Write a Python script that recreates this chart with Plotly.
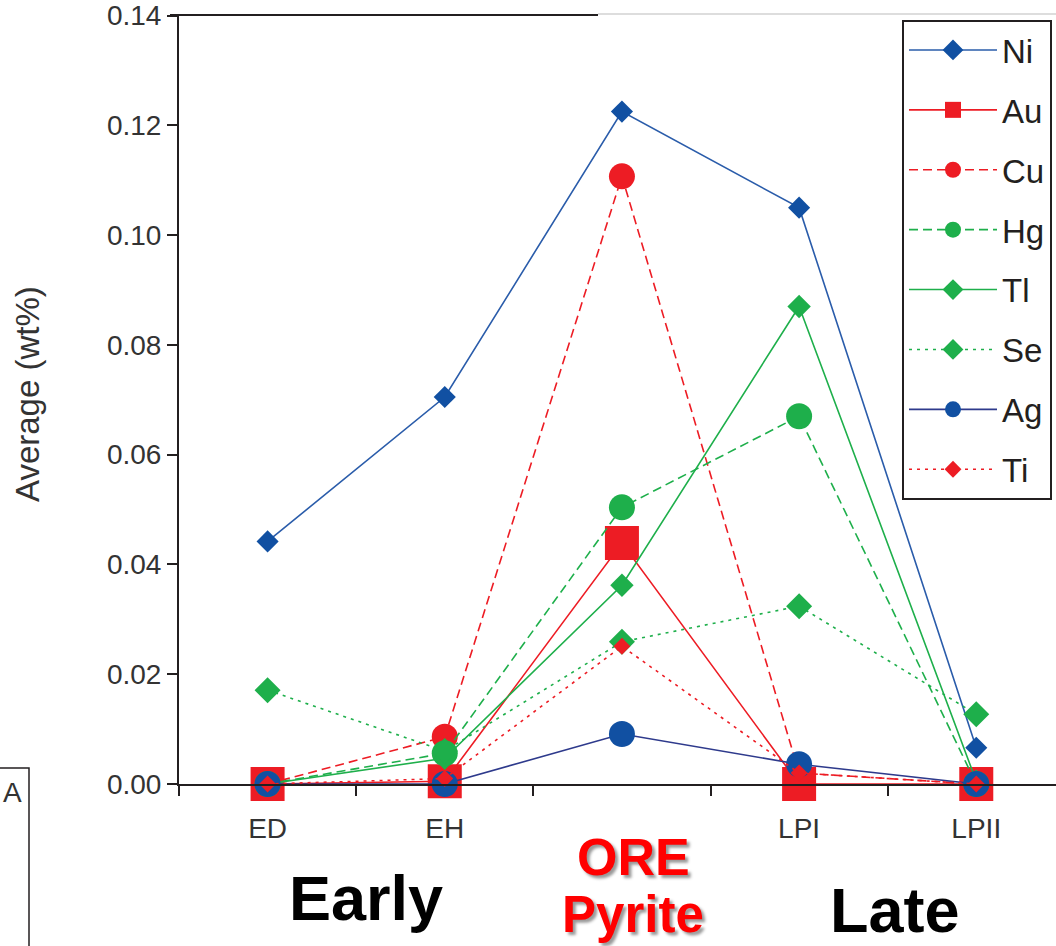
import plotly.graph_objects as go

# ---- data ----
stages = ["ED", "EH", "ORE", "LPI", "LPII"]
tick_labels = ["ED", "EH", "", "LPI", "LPII"]
x_pos = [0, 1, 2, 3, 4]
y_ticks = [0.00, 0.02, 0.04, 0.06, 0.08, 0.10, 0.12, 0.14]
y_tick_text = ["0.00", "0.02", "0.04", "0.06", "0.08", "0.10", "0.12", "0.14"]

ni = [0.0442, 0.0705, 0.1225, 0.1050, 0.0066]
au = [0.0000, 0.0005, 0.0439, 0.0000, 0.0000]
cu = [0.0000, 0.0086, 0.1107, 0.0020, 0.0000]
hg = [0.0000, 0.0056, 0.0504, 0.0670, 0.0000]
tl = [0.0000, 0.0047, 0.0362, 0.0870, 0.0005]
se = [0.0171, 0.0060, 0.0259, 0.0324, 0.0127]
ag = [0.0000, 0.0000, 0.0091, 0.0036, 0.0000]
ti = [0.0000, 0.0010, 0.0251, 0.0020, 0.0000]

BLUE = "#1150A2"
NAVY = "#2E3A8C"
RED = "#ED1C24"
GREEN = "#1EAF4B"
FONT = "Liberation Sans, Arial, sans-serif"

series = [
    ("Ni", ni, "#2A5CAA", "solid", "diamond", 17, BLUE),
    ("Au", au, RED, "solid", "square", 34, RED),
    ("Cu", cu, RED, "9px,5px", "circle", 26, RED),
    ("Hg", hg, GREEN, "9px,5px", "circle", 26, GREEN),
    ("Tl", tl, GREEN, "solid", "diamond", 18, GREEN),
    ("Se", se, GREEN, "3px,5px", "diamond", 20, GREEN),
    ("Ag", ag, NAVY, "solid", "circle", 26, BLUE),
    ("Ti", ti, RED, "3px,5px", "diamond", 13, RED),
]

fig = go.Figure()
for name, vals, lc, dash, sym, sz, mc in series:
    fig.add_trace(go.Scatter(
        x=x_pos, y=vals, name=name, mode="lines+markers",
        line=dict(color=lc, width=1.6, dash=dash),
        marker=dict(symbol=sym, size=sz, color=mc, line=dict(width=0)),
        cliponaxis=False, legendgroup=name,
    ))

W, H = 1056, 946
L, R, T, B = 179, 1056, 15, 784


def px(xp):
    return (xp - L) / (R - L)


def py(yp):
    return (B - yp) / (B - T)


fig.update_layout(
    width=W, height=H,
    margin=dict(l=L, r=W - R, t=T, b=H - B),
    paper_bgcolor="white", plot_bgcolor="white",
    font=dict(family=FONT, color="#231F20"),
    showlegend=True,
    legend=dict(
        x=px(902), y=py(20), xanchor="left", yanchor="top",
        bgcolor="white", bordercolor="#231F20", borderwidth=2,
        font=dict(family=FONT, size=33, color="#231F20"),
        itemwidth=88, tracegroupgap=14, itemsizing="trace",
    ),
    xaxis=dict(
        range=[-0.5, 4.45], showgrid=False, zeroline=False,
        showline=True, linecolor="#231F20", linewidth=2,
        tickvals=x_pos, ticktext=tick_labels, ticks="",
        ticklabelstandoff=18,
        tickfont=dict(family=FONT, size=28, color="#333333"),
        minor=dict(tick0=0.5, dtick=1, ticks="outside", ticklen=10,
                   tickwidth=2, tickcolor="#231F20", showgrid=False),
    ),
    yaxis=dict(
        range=[0, 0.1401], tickvals=y_ticks, ticktext=y_tick_text,
        showgrid=False, zeroline=False, automargin=False,
        showline=True, linecolor="#231F20", linewidth=2,
        ticks="outside", ticklen=10, tickwidth=2, tickcolor="#231F20",
        tickfont=dict(family=FONT, size=28, color="#333333"),
        ticklabeloverflow="allow",
    ),
)

# top frame line
fig.add_shape(type="line", xref="paper", yref="paper",
              x0=px(170), x1=px(598), y0=1, y1=1,
              line=dict(color="#231F20", width=2))
fig.add_shape(type="line", xref="paper", yref="paper",
              x0=px(598), x1=1, y0=py(14), y1=py(14),
              line=dict(color="#BBBBBB", width=1))
# partial box at bottom left
fig.add_shape(type="rect", xref="paper", yref="paper",
              x0=px(-60), x1=px(29), y0=py(1000), y1=py(768),
              line=dict(color="#231F20", width=1.5))

ann = [
    dict(text="Average (wt%)", x=px(28), y=py(394), textangle=-90,
         xanchor="center", font=dict(family=FONT, size=33, color="#333333")),
    dict(text="A", x=px(1), y=py(792), xanchor="left",
         font=dict(family=FONT, size=28, color="#333333")),
    dict(text="<b>Early</b>", x=px(366), y=py(898), xanchor="center",
         font=dict(family=FONT, size=63, color="black")),
    dict(text="<b>Late</b>", x=px(895), y=py(910), xanchor="center",
         font=dict(family=FONT, size=63, color="black")),
    dict(text="<b>ORE</b>", x=px(633), y=py(857), xanchor="center",
         font=dict(family=FONT, size=52, color="#FF0000",
                   shadow="3px 3px 3px #999999")),
    dict(text="<b>Pyrite</b>", x=px(633), y=py(914), xanchor="center",
         font=dict(family=FONT, size=51, color="#FF0000",
                   shadow="3px 3px 3px #999999")),
]
for a in ann:
    fig.add_annotation(xref="paper", yref="paper", showarrow=False,
                       yanchor="middle", **a)

fig.write_html("out.html")
